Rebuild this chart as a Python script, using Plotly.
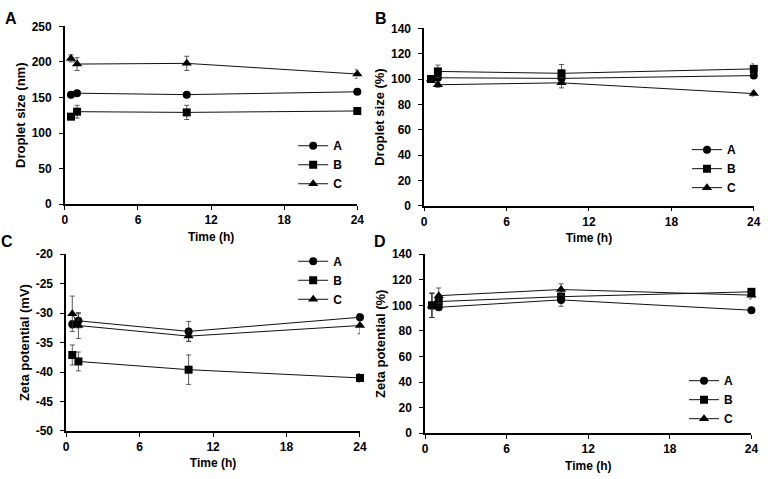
import plotly.graph_objects as go

time_h = [0.5, 1, 10, 24]
series_names = ["A", "B", "C"]
symbols = ["circle", "square", "triangle-up"]

# Panel A: droplet size (nm)
size_nm = {
    "A": [154, 156, 154, 158],
    "B": [123, 130, 129, 131],
    "C": [205, 197, 198, 183],
}
size_nm_err = {
    "A": [2, 2, 3, 2],
    "B": [3, 9, 10, 4],
    "C": [5, 9, 10, 6],
}
# Panel B: droplet size (%)
size_pct = {
    "A": [100, 101, 100.5, 102.7],
    "B": [100, 106, 104.5, 108],
    "C": [100, 95.5, 97, 88.5],
}
size_pct_err = {
    "A": [1, 2, 2, 2],
    "B": [2, 5, 7, 4],
    "C": [1, 2, 4, 2],
}
# Panel C: zeta potential (mV)
zeta_mv = {
    "A": [-31.9, -31.3, -33.1, -30.7],
    "B": [-37.1, -38.2, -39.6, -41.0],
    "C": [-30.1, -32.1, -33.9, -32.1],
}
zeta_mv_err = {
    "A": [0.6, 1.2, 1.7, 0.6],
    "B": [1.7, 1.6, 2.5, 0.7],
    "C": [3.0, 2.2, 0.9, 1.4],
}
# Panel D: zeta potential (%)
zeta_pct = {
    "A": [100, 98.5, 104.3, 96.2],
    "B": [100, 103, 106.8, 110.6],
    "C": [100, 107.6, 112.4, 108],
}
zeta_pct_err = {
    "A": [9.5, 2, 5, 1.5],
    "B": [9.5, 3, 3, 2],
    "C": [9.5, 6, 4.5, 3],
}

x_ticks = [0, 6, 12, 18, 24]
y_ticks_nm = [0, 50, 100, 150, 200, 250]
y_ticks_pct = [0, 20, 40, 60, 80, 100, 120, 140]
y_ticks_mv = [-50, -45, -40, -35, -30, -25, -20]
W, H = 768, 479

panels = [
    # data, err, ytitle, yrange, yticks, xpx, ypx, legend pos(px left, px top), letter pos
    (size_nm, size_nm_err, "Droplet size (nm)", [0, 250], y_ticks_nm, (62.7, 359), (20, 203), (294, 128), (0, 12), "A"),
    (size_pct, size_pct_err, "Droplet size (%)", [0, 140], y_ticks_pct, (426.7, 760.7), (22, 204.7), (693, 132), (375, 12), "B"),
    (zeta_mv, zeta_mv_err, "Zeta potential (mV)", [-50, -20], y_ticks_mv, (64, 361.7), (254.7, 436.7), (294, 247), (-4, 242), "C"),
    (zeta_pct, zeta_pct_err, "Zeta potential (%)", [0, 140], y_ticks_pct, (427.7, 758.3), (254.7, 439), (690, 370), (374, 242), "D"),
]

font_family = "Arial, Liberation Sans, sans-serif"
fig = go.Figure()
layout = dict(
    width=W, height=H,
    margin=dict(l=0, r=0, t=0, b=0),
    paper_bgcolor="white", plot_bgcolor="white",
    font=dict(family=font_family, size=12, color="black", weight="bold"),
    annotations=[],
)

for i, (data, err, ytitle, yr, yt, xpx, ypx, lpos, letpos, letter) in enumerate(panels):
    idx = "" if i == 0 else str(i + 1)
    xa = "x" + idx
    ya = "y" + idx
    leg = "legend" + idx
    for name, sym in zip(series_names, symbols):
        fig.add_trace(go.Scatter(
            x=time_h, y=data[name], name=name, mode="lines+markers",
            xaxis=xa, yaxis=ya, legend=leg, cliponaxis=False,
            line=dict(color="#111111", width=1),
            marker=dict(symbol=sym, size=8 if sym != "triangle-up" else 9, color="black"),
            error_y=dict(type="data", array=err[name], visible=True,
                         color="#333333", thickness=0.8, width=2.5),
        ))
    layout["xaxis" + idx] = dict(
        domain=[xpx[0] / W, xpx[1] / W], range=[0, 24], anchor=ya,
        tickvals=x_ticks, ticktext=[str(v) for v in x_ticks],
        showline=True, linecolor="black", linewidth=1.5, ticks="outside",
        ticklen=4, tickcolor="black", showgrid=False, zeroline=False,
        title=dict(text="Time (h)", standoff=6, font=dict(size=12, weight="bold")),
        tickfont=dict(size=12, weight="bold"),
    )
    layout["yaxis" + idx] = dict(
        domain=[1 - ypx[1] / H, 1 - ypx[0] / H], range=yr, anchor=xa,
        tickvals=yt, ticktext=[str(v) for v in yt],
        showline=True, linecolor="black", linewidth=1.5, ticks="outside",
        ticklen=4, tickcolor="black", showgrid=False, zeroline=False,
        ticklabelstandoff=5,
        title=dict(text=ytitle, standoff=3, font=dict(size=13, weight="bold")),
        tickfont=dict(size=12, weight="bold"),
    )
    layout[leg] = dict(
        x=lpos[0] / W, y=1 - lpos[1] / H, xanchor="left", yanchor="top",
        bgcolor="rgba(0,0,0,0)", font=dict(size=12, weight="bold"),
        tracegroupgap=0, itemwidth=30,
    )
    layout["annotations"].append(dict(
        text=letter, x=letpos[0] / W, y=1 - letpos[1] / H, xref="paper", yref="paper",
        xanchor="left", yanchor="middle", showarrow=False,
        font=dict(size=16, weight="bold", family=font_family),
    ))

fig.update_layout(**layout)
fig.write_html("out.html", post_script="document.body.style.margin='0';",
               config={"displayModeBar": False})
